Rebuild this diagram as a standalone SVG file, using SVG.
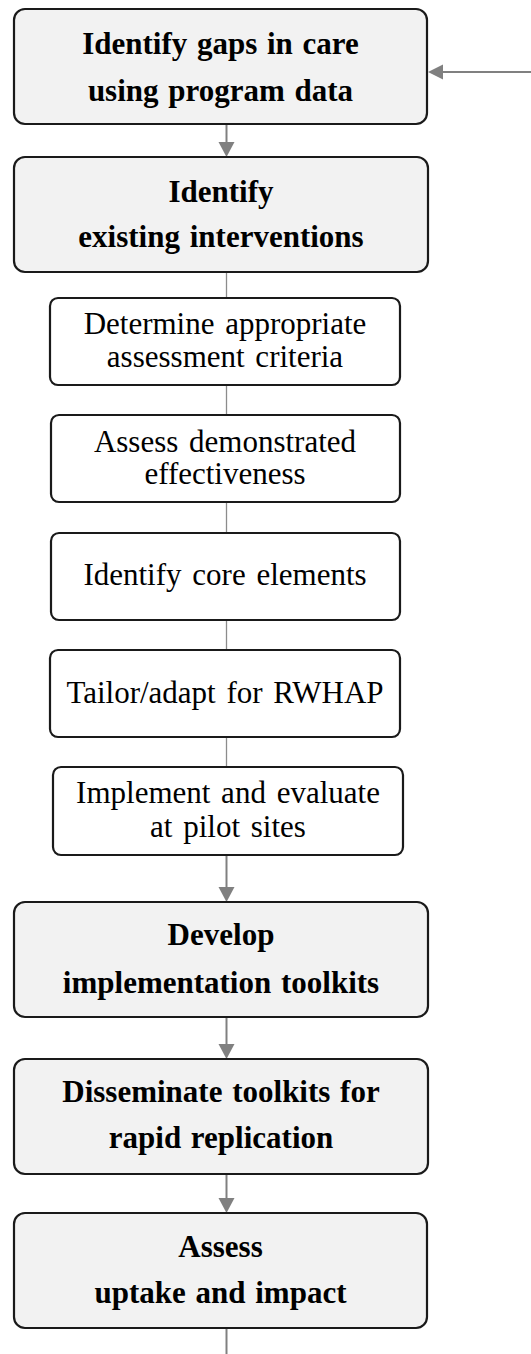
<svg xmlns="http://www.w3.org/2000/svg" width="531" height="1354" viewBox="0 0 531 1354">
<style>
.big{fill:#f2f2f2;stroke:#1a1a1a;stroke-width:2.2}
.small{fill:#ffffff;stroke:#1a1a1a;stroke-width:2.2}
.tb{font-family:"Liberation Serif","Times New Roman",serif;font-weight:bold;font-size:31px;fill:#000;text-anchor:middle;word-spacing:2px}
.ts{font-family:"Liberation Serif","Times New Roman",serif;font-size:31px;fill:#000;text-anchor:middle;word-spacing:3px}
.arr{stroke:#808080;stroke-width:2;fill:none}
.ln{stroke:#8c8c8c;stroke-width:1.3;fill:none}
.head{fill:#808080}
</style>
<g id="connectors">
<line class="arr" x1="531" y1="72" x2="440" y2="72"/>
<polygon class="head" points="428,72 443,64.5 443,79.5"/>
<line class="arr" x1="226.5" y1="124" x2="226.5" y2="144"/>
<polygon class="head" points="226.5,157 218.5,142 234.5,142"/>
<line class="ln" x1="226.5" y1="272" x2="226.5" y2="298"/>
<line class="ln" x1="226.5" y1="385" x2="226.5" y2="415"/>
<line class="ln" x1="226.5" y1="502" x2="226.5" y2="533"/>
<line class="ln" x1="226.5" y1="620" x2="226.5" y2="650"/>
<line class="ln" x1="226.5" y1="737" x2="226.5" y2="767"/>
<line class="arr" x1="226.5" y1="855" x2="226.5" y2="889"/>
<polygon class="head" points="226.5,902 218.5,887 234.5,887"/>
<line class="arr" x1="226.5" y1="1017" x2="226.5" y2="1046"/>
<polygon class="head" points="226.5,1059 218.5,1044 234.5,1044"/>
<line class="arr" x1="226.5" y1="1174" x2="226.5" y2="1200"/>
<polygon class="head" points="226.5,1213 218.5,1198 234.5,1198"/>
<line class="arr" x1="226.5" y1="1328" x2="226.5" y2="1354"/>
</g>
<g id="n1">
<rect class="big" x="14" y="9" width="413" height="115" rx="11"/>
<text class="tb" x="220.5" y="53.5">Identify gaps in care</text>
<text class="tb" x="220.5" y="100.5">using program data</text>
</g>
<g id="n2">
<rect class="big" x="14" y="157" width="414" height="115" rx="11"/>
<text class="tb" x="221" y="201.5">Identify</text>
<text class="tb" x="221" y="247">existing interventions</text>
</g>
<g id="n3">
<rect class="small" x="50" y="298" width="350" height="87" rx="8"/>
<text class="ts" x="225" y="334">Determine appropriate</text>
<text class="ts" x="225" y="367">assessment criteria</text>
</g>
<g id="n4">
<rect class="small" x="51" y="415" width="349" height="87" rx="8"/>
<text class="ts" x="225" y="451.5">Assess demonstrated</text>
<text class="ts" x="225" y="483.5">effectiveness</text>
</g>
<g id="n5">
<rect class="small" x="51" y="533" width="349" height="87" rx="8"/>
<text class="ts" x="225" y="585">Identify core elements</text>
</g>
<g id="n6">
<rect class="small" x="50" y="650" width="350" height="87" rx="8"/>
<text class="ts" x="225" y="703">Tailor/adapt for RWHAP</text>
</g>
<g id="n7">
<rect class="small" x="53" y="767" width="350" height="88" rx="8"/>
<text class="ts" x="228" y="803">Implement and evaluate</text>
<text class="ts" x="228" y="837">at pilot sites</text>
</g>
<g id="n8">
<rect class="big" x="14" y="902" width="414" height="115" rx="11"/>
<text class="tb" x="221" y="945">Develop</text>
<text class="tb" x="221" y="993">implementation toolkits</text>
</g>
<g id="n9">
<rect class="big" x="14" y="1059" width="414" height="115" rx="11"/>
<text class="tb" x="221" y="1101.5">Disseminate toolkits for</text>
<text class="tb" x="221" y="1148">rapid replication</text>
</g>
<g id="n10">
<rect class="big" x="14" y="1213" width="413" height="115" rx="11"/>
<text class="tb" x="220.5" y="1256.5">Assess</text>
<text class="tb" x="220.5" y="1303">uptake and impact</text>
</g>
</svg>
